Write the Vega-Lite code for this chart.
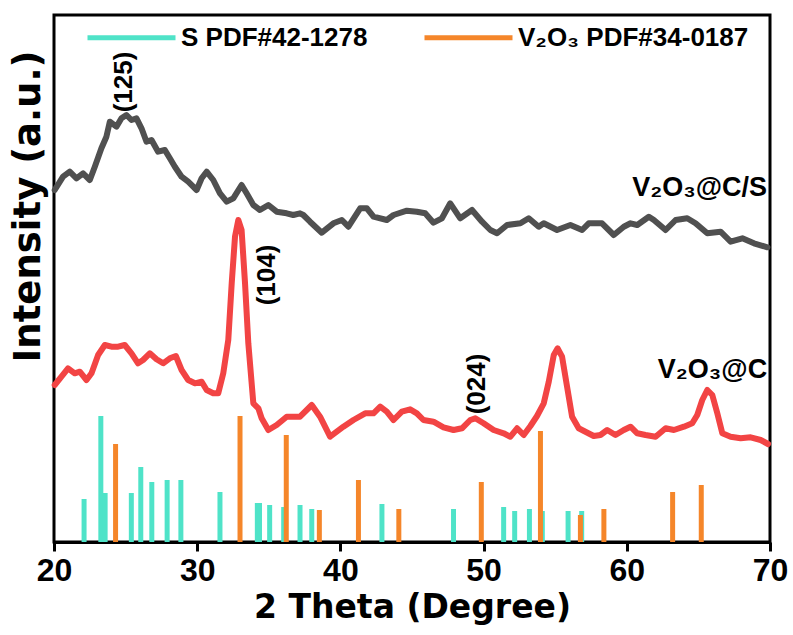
{
  "$schema": "https://vega.github.io/schema/vega-lite/v6.json",
  "width": 716,
  "height": 527,
  "autosize": {"type": "none"},
  "padding": {"left": 54, "top": 15, "right": 23, "bottom": 93},
  "config": {
    "font": "Liberation Sans",
    "view": {"stroke": "black", "strokeWidth": 3},
    "axis": {"grid": false}
  },
  "datasets": {
    "curves": [
      {"sample": "V2O3@C/S", "theta": 20.05, "intensity": 352},
      {"sample": "V2O3@C/S", "theta": 20.63, "intensity": 365.3},
      {"sample": "V2O3@C/S", "theta": 21.10, "intensity": 370.3},
      {"sample": "V2O3@C/S", "theta": 21.57, "intensity": 363.7},
      {"sample": "V2O3@C/S", "theta": 22.03, "intensity": 368.7},
      {"sample": "V2O3@C/S", "theta": 22.50, "intensity": 362},
      {"sample": "V2O3@C/S", "theta": 22.85, "intensity": 375.3},
      {"sample": "V2O3@C/S", "theta": 23.31, "intensity": 393.7},
      {"sample": "V2O3@C/S", "theta": 23.66, "intensity": 405.3},
      {"sample": "V2O3@C/S", "theta": 23.90, "intensity": 420.3},
      {"sample": "V2O3@C/S", "theta": 24.36, "intensity": 415.3},
      {"sample": "V2O3@C/S", "theta": 24.71, "intensity": 423.7},
      {"sample": "V2O3@C/S", "theta": 25.06, "intensity": 427},
      {"sample": "V2O3@C/S", "theta": 25.41, "intensity": 422},
      {"sample": "V2O3@C/S", "theta": 25.76, "intensity": 423.7},
      {"sample": "V2O3@C/S", "theta": 26.11, "intensity": 413.7},
      {"sample": "V2O3@C/S", "theta": 26.46, "intensity": 400.3},
      {"sample": "V2O3@C/S", "theta": 26.81, "intensity": 402},
      {"sample": "V2O3@C/S", "theta": 27.27, "intensity": 390.3},
      {"sample": "V2O3@C/S", "theta": 27.74, "intensity": 392},
      {"sample": "V2O3@C/S", "theta": 28.09, "intensity": 383.7},
      {"sample": "V2O3@C/S", "theta": 28.44, "intensity": 375.3},
      {"sample": "V2O3@C/S", "theta": 28.91, "intensity": 365.3},
      {"sample": "V2O3@C/S", "theta": 29.37, "intensity": 360.3},
      {"sample": "V2O3@C/S", "theta": 29.96, "intensity": 352},
      {"sample": "V2O3@C/S", "theta": 30.31, "intensity": 363.7},
      {"sample": "V2O3@C/S", "theta": 30.66, "intensity": 370.3},
      {"sample": "V2O3@C/S", "theta": 31.12, "intensity": 362},
      {"sample": "V2O3@C/S", "theta": 31.59, "intensity": 348.7},
      {"sample": "V2O3@C/S", "theta": 32.06, "intensity": 340.3},
      {"sample": "V2O3@C/S", "theta": 32.52, "intensity": 343.7},
      {"sample": "V2O3@C/S", "theta": 33.10, "intensity": 357},
      {"sample": "V2O3@C/S", "theta": 33.45, "intensity": 348.7},
      {"sample": "V2O3@C/S", "theta": 33.92, "intensity": 337},
      {"sample": "V2O3@C/S", "theta": 34.38, "intensity": 332},
      {"sample": "V2O3@C/S", "theta": 34.97, "intensity": 337},
      {"sample": "V2O3@C/S", "theta": 35.55, "intensity": 330.3},
      {"sample": "V2O3@C/S", "theta": 36.25, "intensity": 328.7},
      {"sample": "V2O3@C/S", "theta": 36.71, "intensity": 327},
      {"sample": "V2O3@C/S", "theta": 37.18, "intensity": 328.7},
      {"sample": "V2O3@C/S", "theta": 37.41, "intensity": 327},
      {"sample": "V2O3@C/S", "theta": 37.88, "intensity": 320.3},
      {"sample": "V2O3@C/S", "theta": 38.70, "intensity": 309.3},
      {"sample": "V2O3@C/S", "theta": 39.51, "intensity": 318.7},
      {"sample": "V2O3@C/S", "theta": 40.10, "intensity": 322},
      {"sample": "V2O3@C/S", "theta": 40.56, "intensity": 315.3},
      {"sample": "V2O3@C/S", "theta": 41.38, "intensity": 333.7},
      {"sample": "V2O3@C/S", "theta": 41.85, "intensity": 333.7},
      {"sample": "V2O3@C/S", "theta": 42.31, "intensity": 325.3},
      {"sample": "V2O3@C/S", "theta": 43.24, "intensity": 322},
      {"sample": "V2O3@C/S", "theta": 43.71, "intensity": 327},
      {"sample": "V2O3@C/S", "theta": 44.64, "intensity": 331.3},
      {"sample": "V2O3@C/S", "theta": 45.34, "intensity": 330.3},
      {"sample": "V2O3@C/S", "theta": 45.92, "intensity": 328.7},
      {"sample": "V2O3@C/S", "theta": 46.50, "intensity": 319.3},
      {"sample": "V2O3@C/S", "theta": 47.09, "intensity": 323.7},
      {"sample": "V2O3@C/S", "theta": 47.67, "intensity": 338.7},
      {"sample": "V2O3@C/S", "theta": 48.37, "intensity": 323.7},
      {"sample": "V2O3@C/S", "theta": 49.19, "intensity": 332},
      {"sample": "V2O3@C/S", "theta": 49.89, "intensity": 320.3},
      {"sample": "V2O3@C/S", "theta": 50.47, "intensity": 312},
      {"sample": "V2O3@C/S", "theta": 50.94, "intensity": 308.7},
      {"sample": "V2O3@C/S", "theta": 51.64, "intensity": 317},
      {"sample": "V2O3@C/S", "theta": 52.57, "intensity": 318.7},
      {"sample": "V2O3@C/S", "theta": 53.15, "intensity": 323.7},
      {"sample": "V2O3@C/S", "theta": 53.85, "intensity": 315.3},
      {"sample": "V2O3@C/S", "theta": 54.20, "intensity": 318.7},
      {"sample": "V2O3@C/S", "theta": 55.13, "intensity": 312},
      {"sample": "V2O3@C/S", "theta": 56.06, "intensity": 317},
      {"sample": "V2O3@C/S", "theta": 56.88, "intensity": 312},
      {"sample": "V2O3@C/S", "theta": 57.34, "intensity": 318.7},
      {"sample": "V2O3@C/S", "theta": 58.27, "intensity": 318.7},
      {"sample": "V2O3@C/S", "theta": 59.09, "intensity": 307},
      {"sample": "V2O3@C/S", "theta": 59.79, "intensity": 315.3},
      {"sample": "V2O3@C/S", "theta": 60.26, "intensity": 318.7},
      {"sample": "V2O3@C/S", "theta": 60.73, "intensity": 317},
      {"sample": "V2O3@C/S", "theta": 61.54, "intensity": 325.3},
      {"sample": "V2O3@C/S", "theta": 61.89, "intensity": 322},
      {"sample": "V2O3@C/S", "theta": 62.71, "intensity": 312},
      {"sample": "V2O3@C/S", "theta": 63.41, "intensity": 322},
      {"sample": "V2O3@C/S", "theta": 64.22, "intensity": 323.7},
      {"sample": "V2O3@C/S", "theta": 64.80, "intensity": 318.7},
      {"sample": "V2O3@C/S", "theta": 65.62, "intensity": 308.7},
      {"sample": "V2O3@C/S", "theta": 66.55, "intensity": 310.3},
      {"sample": "V2O3@C/S", "theta": 67.25, "intensity": 300.3},
      {"sample": "V2O3@C/S", "theta": 68.07, "intensity": 303.7},
      {"sample": "V2O3@C/S", "theta": 68.88, "intensity": 298.7},
      {"sample": "V2O3@C/S", "theta": 69.82, "intensity": 294.7},
      {"sample": "V2O3@C", "theta": 20.05, "intensity": 157},
      {"sample": "V2O3@C", "theta": 20.52, "intensity": 165.3},
      {"sample": "V2O3@C", "theta": 20.98, "intensity": 173.7},
      {"sample": "V2O3@C", "theta": 21.45, "intensity": 168.7},
      {"sample": "V2O3@C", "theta": 21.80, "intensity": 170.3},
      {"sample": "V2O3@C", "theta": 22.27, "intensity": 162},
      {"sample": "V2O3@C", "theta": 22.62, "intensity": 168.7},
      {"sample": "V2O3@C", "theta": 23.08, "intensity": 187},
      {"sample": "V2O3@C", "theta": 23.55, "intensity": 197},
      {"sample": "V2O3@C", "theta": 24.01, "intensity": 195.3},
      {"sample": "V2O3@C", "theta": 24.48, "intensity": 195.3},
      {"sample": "V2O3@C", "theta": 24.94, "intensity": 197},
      {"sample": "V2O3@C", "theta": 25.41, "intensity": 188.7},
      {"sample": "V2O3@C", "theta": 25.87, "intensity": 178.7},
      {"sample": "V2O3@C", "theta": 26.22, "intensity": 182},
      {"sample": "V2O3@C", "theta": 26.69, "intensity": 188.7},
      {"sample": "V2O3@C", "theta": 27.16, "intensity": 182.7},
      {"sample": "V2O3@C", "theta": 27.62, "intensity": 178.7},
      {"sample": "V2O3@C", "theta": 28.09, "intensity": 183.7},
      {"sample": "V2O3@C", "theta": 28.51, "intensity": 186},
      {"sample": "V2O3@C", "theta": 28.91, "intensity": 172},
      {"sample": "V2O3@C", "theta": 29.37, "intensity": 162},
      {"sample": "V2O3@C", "theta": 29.84, "intensity": 158.7},
      {"sample": "V2O3@C", "theta": 30.31, "intensity": 160.3},
      {"sample": "V2O3@C", "theta": 30.66, "intensity": 152},
      {"sample": "V2O3@C", "theta": 31.12, "intensity": 148.7},
      {"sample": "V2O3@C", "theta": 31.47, "intensity": 148.7},
      {"sample": "V2O3@C", "theta": 31.82, "intensity": 168.7},
      {"sample": "V2O3@C", "theta": 32.17, "intensity": 202},
      {"sample": "V2O3@C", "theta": 32.41, "intensity": 258.7},
      {"sample": "V2O3@C", "theta": 32.64, "intensity": 305.3},
      {"sample": "V2O3@C", "theta": 32.87, "intensity": 322},
      {"sample": "V2O3@C", "theta": 33.10, "intensity": 312},
      {"sample": "V2O3@C", "theta": 33.34, "intensity": 258.7},
      {"sample": "V2O3@C", "theta": 33.57, "intensity": 198.7},
      {"sample": "V2O3@C", "theta": 33.92, "intensity": 138.7},
      {"sample": "V2O3@C", "theta": 34.27, "intensity": 133.7},
      {"sample": "V2O3@C", "theta": 34.50, "intensity": 123.7},
      {"sample": "V2O3@C", "theta": 34.97, "intensity": 112},
      {"sample": "V2O3@C", "theta": 35.55, "intensity": 117},
      {"sample": "V2O3@C", "theta": 36.25, "intensity": 125.3},
      {"sample": "V2O3@C", "theta": 37.18, "intensity": 125.3},
      {"sample": "V2O3@C", "theta": 38.00, "intensity": 137},
      {"sample": "V2O3@C", "theta": 38.58, "intensity": 125.3},
      {"sample": "V2O3@C", "theta": 39.28, "intensity": 105.3},
      {"sample": "V2O3@C", "theta": 40.21, "intensity": 115.3},
      {"sample": "V2O3@C", "theta": 40.91, "intensity": 122},
      {"sample": "V2O3@C", "theta": 41.73, "intensity": 128.7},
      {"sample": "V2O3@C", "theta": 42.31, "intensity": 128.7},
      {"sample": "V2O3@C", "theta": 42.78, "intensity": 135.3},
      {"sample": "V2O3@C", "theta": 43.24, "intensity": 130.3},
      {"sample": "V2O3@C", "theta": 43.71, "intensity": 122},
      {"sample": "V2O3@C", "theta": 44.29, "intensity": 130.3},
      {"sample": "V2O3@C", "theta": 44.87, "intensity": 132.7},
      {"sample": "V2O3@C", "theta": 45.34, "intensity": 128.7},
      {"sample": "V2O3@C", "theta": 45.80, "intensity": 122},
      {"sample": "V2O3@C", "theta": 46.50, "intensity": 120.3},
      {"sample": "V2O3@C", "theta": 47.20, "intensity": 114.7},
      {"sample": "V2O3@C", "theta": 47.90, "intensity": 112},
      {"sample": "V2O3@C", "theta": 48.49, "intensity": 113.7},
      {"sample": "V2O3@C", "theta": 49.07, "intensity": 122},
      {"sample": "V2O3@C", "theta": 49.42, "intensity": 123.7},
      {"sample": "V2O3@C", "theta": 50.00, "intensity": 118.7},
      {"sample": "V2O3@C", "theta": 50.70, "intensity": 112},
      {"sample": "V2O3@C", "theta": 51.40, "intensity": 108.7},
      {"sample": "V2O3@C", "theta": 51.87, "intensity": 105.3},
      {"sample": "V2O3@C", "theta": 52.34, "intensity": 113.7},
      {"sample": "V2O3@C", "theta": 52.80, "intensity": 107},
      {"sample": "V2O3@C", "theta": 53.27, "intensity": 116},
      {"sample": "V2O3@C", "theta": 53.73, "intensity": 126},
      {"sample": "V2O3@C", "theta": 54.20, "intensity": 138.7},
      {"sample": "V2O3@C", "theta": 54.55, "intensity": 160.3},
      {"sample": "V2O3@C", "theta": 54.90, "intensity": 187},
      {"sample": "V2O3@C", "theta": 55.17, "intensity": 193.7},
      {"sample": "V2O3@C", "theta": 55.48, "intensity": 185.3},
      {"sample": "V2O3@C", "theta": 55.83, "intensity": 155.3},
      {"sample": "V2O3@C", "theta": 56.18, "intensity": 125.3},
      {"sample": "V2O3@C", "theta": 56.64, "intensity": 113.7},
      {"sample": "V2O3@C", "theta": 57.11, "intensity": 110.3},
      {"sample": "V2O3@C", "theta": 57.69, "intensity": 106},
      {"sample": "V2O3@C", "theta": 58.16, "intensity": 107},
      {"sample": "V2O3@C", "theta": 58.63, "intensity": 112},
      {"sample": "V2O3@C", "theta": 59.21, "intensity": 107},
      {"sample": "V2O3@C", "theta": 59.79, "intensity": 112},
      {"sample": "V2O3@C", "theta": 60.26, "intensity": 115.3},
      {"sample": "V2O3@C", "theta": 60.73, "intensity": 108.7},
      {"sample": "V2O3@C", "theta": 61.31, "intensity": 107},
      {"sample": "V2O3@C", "theta": 62.01, "intensity": 105.3},
      {"sample": "V2O3@C", "theta": 62.71, "intensity": 113.7},
      {"sample": "V2O3@C", "theta": 63.29, "intensity": 112},
      {"sample": "V2O3@C", "theta": 63.99, "intensity": 115.3},
      {"sample": "V2O3@C", "theta": 64.57, "intensity": 118.7},
      {"sample": "V2O3@C", "theta": 64.92, "intensity": 127},
      {"sample": "V2O3@C", "theta": 65.27, "intensity": 142},
      {"sample": "V2O3@C", "theta": 65.62, "intensity": 152},
      {"sample": "V2O3@C", "theta": 65.97, "intensity": 147},
      {"sample": "V2O3@C", "theta": 66.32, "intensity": 128.7},
      {"sample": "V2O3@C", "theta": 66.67, "intensity": 108.7},
      {"sample": "V2O3@C", "theta": 67.25, "intensity": 105.3},
      {"sample": "V2O3@C", "theta": 67.95, "intensity": 103.7},
      {"sample": "V2O3@C", "theta": 68.65, "intensity": 104.7},
      {"sample": "V2O3@C", "theta": 69.35, "intensity": 102},
      {"sample": "V2O3@C", "theta": 69.86, "intensity": 98}
    ],
    "sticks": [
      {"phase": "S PDF#42-1278", "theta": 22.1, "intensity": 43},
      {"phase": "S PDF#42-1278", "theta": 23.27, "intensity": 126},
      {"phase": "S PDF#42-1278", "theta": 23.57, "intensity": 49},
      {"phase": "S PDF#42-1278", "theta": 25.4, "intensity": 49},
      {"phase": "S PDF#42-1278", "theta": 26.06, "intensity": 75},
      {"phase": "S PDF#42-1278", "theta": 26.83, "intensity": 60},
      {"phase": "S PDF#42-1278", "theta": 27.9, "intensity": 62},
      {"phase": "S PDF#42-1278", "theta": 28.86, "intensity": 62},
      {"phase": "S PDF#42-1278", "theta": 31.59, "intensity": 50},
      {"phase": "S PDF#42-1278", "theta": 34.2, "intensity": 39},
      {"phase": "S PDF#42-1278", "theta": 34.35, "intensity": 39},
      {"phase": "S PDF#42-1278", "theta": 35.06, "intensity": 37},
      {"phase": "S PDF#42-1278", "theta": 36.04, "intensity": 35},
      {"phase": "S PDF#42-1278", "theta": 37.18, "intensity": 37},
      {"phase": "S PDF#42-1278", "theta": 38.0, "intensity": 33},
      {"phase": "S PDF#42-1278", "theta": 42.9, "intensity": 38},
      {"phase": "S PDF#42-1278", "theta": 47.9, "intensity": 33},
      {"phase": "S PDF#42-1278", "theta": 51.4, "intensity": 35},
      {"phase": "S PDF#42-1278", "theta": 52.17, "intensity": 31},
      {"phase": "S PDF#42-1278", "theta": 53.2, "intensity": 33},
      {"phase": "S PDF#42-1278", "theta": 54.1, "intensity": 31},
      {"phase": "S PDF#42-1278", "theta": 55.9, "intensity": 31},
      {"phase": "S PDF#42-1278", "theta": 56.85, "intensity": 31},
      {"phase": "V₂O₃ PDF#34-0187", "theta": 24.3, "intensity": 98},
      {"phase": "V₂O₃ PDF#34-0187", "theta": 32.99, "intensity": 126},
      {"phase": "V₂O₃ PDF#34-0187", "theta": 36.22, "intensity": 107},
      {"phase": "V₂O₃ PDF#34-0187", "theta": 38.53, "intensity": 32},
      {"phase": "V₂O₃ PDF#34-0187", "theta": 41.26, "intensity": 62},
      {"phase": "V₂O₃ PDF#34-0187", "theta": 44.08, "intensity": 33},
      {"phase": "V₂O₃ PDF#34-0187", "theta": 49.84, "intensity": 60},
      {"phase": "V₂O₃ PDF#34-0187", "theta": 53.97, "intensity": 111},
      {"phase": "V₂O₃ PDF#34-0187", "theta": 56.76, "intensity": 27},
      {"phase": "V₂O₃ PDF#34-0187", "theta": 58.4, "intensity": 33},
      {"phase": "V₂O₃ PDF#34-0187", "theta": 63.2, "intensity": 50},
      {"phase": "V₂O₃ PDF#34-0187", "theta": 65.2, "intensity": 57}
    ],
    "planes": [
      {"label": "(125)", "theta": 24.9, "intensity": 460},
      {"label": "(104)", "theta": 34.86, "intensity": 267},
      {"label": "(024)", "theta": 49.54, "intensity": 158}
    ],
    "names": [
      {"label": "V₂O₃@C/S", "theta": 69.8, "intensity": 354},
      {"label": "V₂O₃@C", "theta": 69.8, "intensity": 172}
    ]
  },
  "layer": [
    {
      "data": {"name": "sticks"},
      "mark": {"type": "rule", "strokeWidth": 5, "strokeCap": "butt"},
      "encoding": {
        "x": {
          "field": "theta", "type": "quantitative",
          "scale": {"domain": [20, 70], "nice": false, "zero": false},
          "axis": {
            "title": "2 Theta (Degree)",
            "values": [20, 30, 40, 50, 60, 70],
            "domainColor": "black", "domainWidth": 3,
            "tickColor": "black", "tickWidth": 3, "tickSize": 9,
            "labelFontSize": 32, "labelFontWeight": "bold", "labelColor": "black",
            "labelPadding": 4, "labelFlush": false,
            "titleFont": "DejaVu Sans", "titleFontSize": 33, "titleFontWeight": "bold", "titleColor": "black",
            "titlePadding": 5
          }
        },
        "y": {
          "field": "intensity", "type": "quantitative",
          "scale": {"domain": [0, 527], "nice": false},
          "axis": {
            "title": "Intensity (a.u.)",
            "domain": false, "ticks": false, "labels": false,
            "titleFont": "DejaVu Sans", "titleFontSize": 37, "titleFontWeight": "bold", "titleColor": "black",
            "titleAngle": -90, "titleX": -26, "titleY": 191,
            "titleAlign": "center", "titleBaseline": "middle"
          }
        },
        "y2": {"datum": 0},
        "color": {
          "field": "phase", "type": "nominal",
          "scale": {"domain": ["S PDF#42-1278", "V₂O₃ PDF#34-0187"], "range": ["#4fe3c8", "#f5862a"]},
          "legend": {
            "title": null, "orient": "none", "direction": "horizontal",
            "legendX": 31, "legendY": -24, "padding": 0,
            "symbolType": "stroke", "symbolSize": 7744, "symbolStrokeWidth": 5,
            "labelFontSize": 26, "labelFontWeight": "bold", "labelColor": "black",
            "labelOffset": 3, "labelLimit": 400, "columnPadding": 46
          }
        }
      }
    },
    {
      "data": {"name": "curves"},
      "mark": {"type": "line", "strokeWidth": 6, "strokeJoin": "round", "strokeCap": "round"},
      "encoding": {
        "x": {"field": "theta", "type": "quantitative"},
        "y": {"field": "intensity", "type": "quantitative"},
        "color": {
          "field": "sample", "type": "nominal",
          "scale": {"domain": ["V2O3@C/S", "V2O3@C"], "range": ["#505050", "#f24444"]},
          "legend": null
        }
      }
    },
    {
      "data": {"name": "planes"},
      "mark": {"type": "text", "angle": 270, "align": "center", "baseline": "middle", "fontSize": 26, "fontWeight": "bold", "color": "black"},
      "encoding": {
        "x": {"field": "theta", "type": "quantitative"},
        "y": {"field": "intensity", "type": "quantitative"},
        "text": {"field": "label"}
      }
    },
    {
      "data": {"name": "names"},
      "mark": {"type": "text", "align": "right", "baseline": "middle", "fontSize": 27, "fontWeight": "bold", "color": "black"},
      "encoding": {
        "x": {"field": "theta", "type": "quantitative"},
        "y": {"field": "intensity", "type": "quantitative"},
        "text": {"field": "label"}
      }
    }
  ],
  "resolve": {"scale": {"color": "independent"}, "legend": {"color": "independent"}}
}
